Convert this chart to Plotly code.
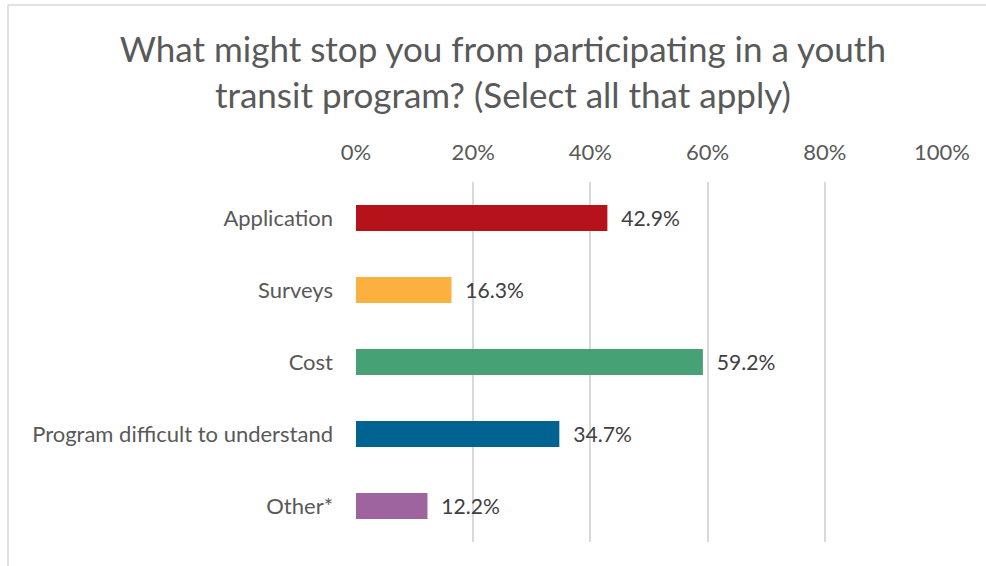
import plotly.graph_objects as go

# survey answers, top to bottom
categories = ['Application', 'Surveys', 'Cost', 'Program difficult to understand', 'Other*']
values = [42.9, 16.3, 59.2, 34.7, 12.2]
colors = ['#B5121B', '#FBB040', '#46A274', '#01638F', '#9D64A0']
tick_vals = [0, 20, 40, 60, 80, 100]
tick_text = ['0%', '20%', '40%', '60%', '80%', '100%']

font = 'Lato, sans-serif'

fig = go.Figure()
fig.add_trace(go.Bar(
    y=categories,
    x=values,
    orientation='h',
    marker=dict(color=colors, line=dict(width=0)),
    width=0.36,
    text=['\u00a0\u00a0' + f'{v:.1f}%' for v in values],
    textposition='outside',
    textfont=dict(family=font, size=22, color='#404040'),
    cliponaxis=False,
    hoverinfo='skip',
))

# frame position (paper coords), only left and top edges are visible
frame_x = (8 - 356) / 586
frame_y = (542 - 5) / 360

fig.update_layout(
    width=986,
    height=566,
    paper_bgcolor='white',
    plot_bgcolor='white',
    margin=dict(l=356, r=44, t=182, b=24),
    showlegend=False,
    title=dict(
        text='What might stop you from participating in a youth<br>transit program? (Select all that apply)',
        font=dict(family=font, size=35, color='#595959'),
        x=0.51,
        xanchor='center',
        yref='container',
        y=1 - 62 / 566,
        yanchor='top',
    ),
    xaxis=dict(
        side='top',
        range=[0, 100],
        tickvals=tick_vals,
        ticktext=tick_text,
        showgrid=True,
        gridcolor='#D9D9D9',
        gridwidth=1.5,
        zeroline=False,
        showline=False,
        ticks='',
        ticklabelstandoff=17,
        tickfont=dict(family=font, size=22, color='#595959'),
    ),
    yaxis=dict(
        autorange='reversed',
        showgrid=False,
        zeroline=False,
        showline=False,
        ticks='',
        ticklabelstandoff=22,
        tickfont=dict(family=font, size=22, color='#595959'),
    ),
    shapes=[
        dict(type='line', xref='paper', yref='paper',
             x0=frame_x, x1=1.2, y0=frame_y, y1=frame_y,
             line=dict(color='#D9D9D9', width=1.5)),
        dict(type='line', xref='paper', yref='paper',
             x0=frame_x, x1=frame_x, y0=-0.2, y1=frame_y,
             line=dict(color='#D9D9D9', width=1.5)),
    ],
)

fig.write_html('out.html', config={'displayModeBar': False},
               post_script="document.body.style.margin='0';")
